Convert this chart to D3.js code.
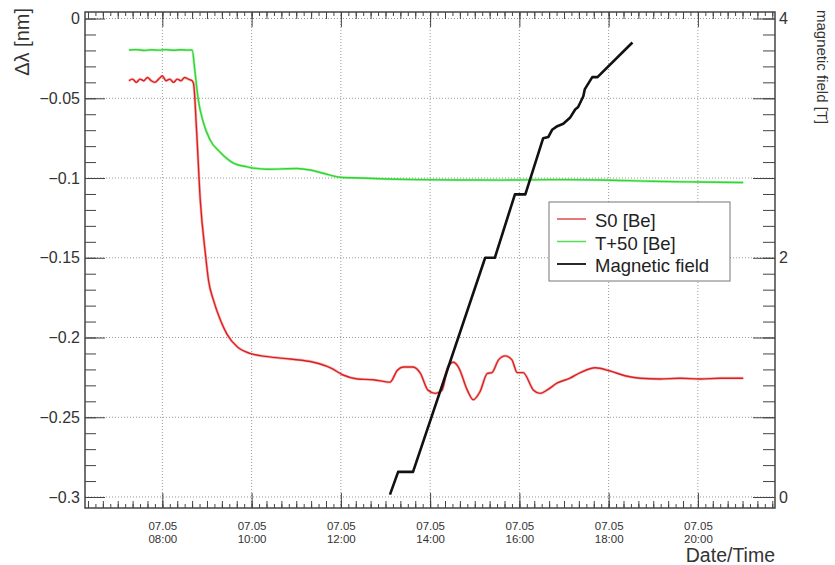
<!DOCTYPE html>
<html>
<head>
<meta charset="utf-8">
<script src="https://cdn.jsdelivr.net/npm/d3@7"></script>
<style>
body { margin: 0; background: #fff; }
svg { font-family: "Liberation Sans", Arial, Helvetica, sans-serif; }
</style>
</head>
<body>
<svg width="835" height="565"></svg>
<script>
// ---- data ----
var dayLabel = "07.05"

var s0Time = ["07:15","07:20","07:25","07:30","07:35","07:40","07:45","07:50","07:55","08:00",
  "08:05","08:10","08:15","08:20","08:25","08:30","08:35","08:40","08:42","08:46","08:51","08:58",
  "09:02","09:09","09:18","09:27","09:41","09:58","10:21","10:52","11:23","11:46","12:03","12:22",
  "12:44","13:06","13:16","13:24","13:37","13:47","13:57","14:07","14:16","14:24","14:31","14:38",
  "14:50","14:58","15:07","15:17","15:23","15:32","15:41","15:50","15:57","16:05","16:19","16:28",
  "16:37","16:51","17:08","17:22","17:42","18:02","18:22","18:42","19:09","19:36","20:03","20:30","21:01"]
var s0Value = [-0.039,-0.038,-0.040,-0.038,-0.039,-0.037,-0.039,-0.040,-0.038,-0.036,
  -0.039,-0.038,-0.040,-0.038,-0.039,-0.037,-0.038,-0.039,-0.041,-0.070,-0.114,-0.148,
  -0.164,-0.177,-0.189,-0.198,-0.206,-0.210,-0.212,-0.2135,-0.2155,-0.219,-0.2235,-0.226,
  -0.2265,-0.228,-0.2205,-0.2185,-0.2185,-0.2225,-0.233,-0.235,-0.233,-0.2185,-0.2155,-0.2185,
  -0.233,-0.239,-0.234,-0.2225,-0.222,-0.214,-0.2115,-0.214,-0.222,-0.222,-0.233,-0.235,
  -0.233,-0.2285,-0.2255,-0.222,-0.219,-0.221,-0.224,-0.2255,-0.226,-0.2255,-0.226,-0.2255,-0.2255]

var tTime = ["07:15","07:25","07:35","07:45","07:55","08:05","08:15","08:25","08:35","08:40",
  "08:44","08:48","08:55","09:04","09:18","09:35","09:54","10:21","11:01","11:19","11:36","11:59",
  "12:26","12:53","13:47","14:40","15:34","16:40","17:49","18:56","20:03","21:01"]
var tValue = [-0.0197,-0.0195,-0.0200,-0.0196,-0.0198,-0.0195,-0.0199,-0.0196,-0.0198,-0.0197,
  -0.034,-0.050,-0.065,-0.076,-0.084,-0.0905,-0.093,-0.0945,-0.094,-0.095,-0.097,-0.0995,
  -0.100,-0.1005,-0.101,-0.1012,-0.1013,-0.101,-0.1012,-0.102,-0.1025,-0.1028]

var bTime = ["13:06","13:17","13:37","15:14","15:27","15:54","16:08","16:32","16:39","16:44",
  "16:51","16:59","17:08","17:15","17:19","17:26","17:28","17:38","17:45","18:32"]
var bValue = [0.02,0.21,0.21,2.0,2.0,2.53,2.53,3.0,3.01,3.07,
  3.10,3.12,3.17,3.24,3.26,3.35,3.41,3.51,3.51,3.80]

var yTicks = [0,-0.05,-0.1,-0.15,-0.2,-0.25,-0.3]
var yTickLabels = ["0","\u22120.05","\u22120.1","\u22120.15","\u22120.2","\u22120.25","\u22120.3"]
var bTicks = [0,2,4]
var xTickHours = ["08:00","10:00","12:00","14:00","16:00","18:00","20:00"]
var legendNames = ["S0 [Be]","T+50 [Be]","Magnetic field"]

// ---- setup ----
var svg = d3.select("svg")
var parse = d3.timeParse("%H:%M")
var L = 85, R = 775, T = 12, B = 508
var ink = "#444", txt = "#333"

var x = d3.scaleTime()
    .domain([parse("06:16"), d3.timeSecond.offset(parse("21:43"), 40)])
    .range([L, R])
var y = d3.scaleLinear().domain([-0.3069, 0.0041]).range([B, T])
// right axis is tied to the left one: -0.3 -> 0 T, 0 -> 4 T
var yB = d3.scaleLinear()
    .domain([(-0.3069+0.3)/0.075, (0.0041+0.3)/0.075]).range([B, T])

// grid
var grid = svg.append("g")
grid.selectAll(".gx").data(xTickHours).enter().append("line")
    .attr("x1", function(d){ return x(parse(d)) }).attr("x2", function(d){ return x(parse(d)) })
    .attr("y1", T).attr("y2", B)
    .attr("stroke", "#999").attr("stroke-dasharray", "1,2")
grid.selectAll(".gy").data(yTicks).enter().append("line")
    .attr("x1", L).attr("x2", R)
    .attr("y1", function(d){ return y(d) }).attr("y2", function(d){ return y(d) })
    .attr("stroke", "#999").attr("stroke-dasharray", "1,2")

// ---- curves ----
function series(times, vals) {
    return times.map(function(t, i){ return [parse(t), vals[i]] })
}
var lineY = d3.line().x(function(d){ return x(d[0]) }).y(function(d){ return y(d[1]) })
    .curve(d3.curveMonotoneX)
var lineB = d3.line().x(function(d){ return x(d[0]) }).y(function(d){ return yB(d[1]) })

// a soft halo under the thin lines, the measured data is noisy
svg.append("path").datum(series(tTime, tValue)).attr("d", lineY)
    .attr("fill", "none").attr("stroke", "#2fd62f").attr("stroke-width", 2.6).attr("opacity", 0.35)
svg.append("path").datum(series(tTime, tValue)).attr("d", lineY)
    .attr("fill", "none").attr("stroke", "#2fd62f").attr("stroke-width", 1.4)
svg.append("path").datum(series(s0Time, s0Value)).attr("d", lineY)
    .attr("fill", "none").attr("stroke", "#dd1f1f").attr("stroke-width", 2.8).attr("opacity", 0.3)
svg.append("path").datum(series(s0Time, s0Value)).attr("d", lineY)
    .attr("fill", "none").attr("stroke", "#dd1f1f").attr("stroke-width", 1.4)
svg.append("path").datum(series(bTime, bValue)).attr("d", lineB)
    .attr("fill", "none").attr("stroke", "#111").attr("stroke-width", 2.6)
    .attr("stroke-linejoin", "round")

// ---- axes ----
function axisStyle(g) {
    g.select(".domain").remove()
    g.selectAll(".tick line").attr("stroke", ink)
    g.selectAll(".tick text").attr("fill", txt)
}

var hours2 = xTickHours.map(parse)
var min10 = d3.timeMinute.every(10).range(x.domain()[0], x.domain()[1])
var min20 = min10.filter(function(d){ return d.getMinutes() % 20 == 0 })

// bottom
svg.append("g").attr("transform", "translate(0,"+B+")")
    .call(d3.axisBottom(x).tickValues(min10).tickSize(-4).tickFormat("")).call(axisStyle)
svg.append("g").attr("transform", "translate(0,"+B+")")
    .call(d3.axisBottom(x).tickValues(min20).tickSize(-7).tickFormat("")).call(axisStyle)
var xb = svg.append("g").attr("transform", "translate(0,"+B+")")
    .call(d3.axisBottom(x).tickValues(hours2).tickSize(-15).tickPadding(0)
    .tickFormat(function(){ return dayLabel })).call(axisStyle)
xb.selectAll(".tick text").attr("font-size", 11.5).attr("dy", null).attr("y", 22)
// second label line (hour) under the date
xb.selectAll(".tick").append("text")
    .attr("fill", txt).attr("font-size", 11.5).attr("y", 35)
    .text(d3.timeFormat("%H:%M"))

// top (mirrored ticks only)
svg.append("g").attr("transform", "translate(0,"+T+")")
    .call(d3.axisTop(x).tickValues(min10).tickSize(-4).tickFormat("")).call(axisStyle)
svg.append("g").attr("transform", "translate(0,"+T+")")
    .call(d3.axisTop(x).tickValues(min20).tickSize(-7).tickFormat("")).call(axisStyle)
svg.append("g").attr("transform", "translate(0,"+T+")")
    .call(d3.axisTop(x).tickValues(hours2).tickSize(-15).tickFormat("")).call(axisStyle)

// left
var yMinor = d3.range(0, 31).map(function(i){ return -i/100 })
svg.append("g").attr("transform", "translate("+L+",0)")
    .call(d3.axisLeft(y).tickValues(yMinor).tickSize(-11).tickFormat("")).call(axisStyle)
var yl = svg.append("g").attr("transform", "translate("+L+",0)")
    .call(d3.axisLeft(y).tickValues(yTicks).tickSize(-20).tickPadding(5)
    .tickFormat(function(d, i){ return yTickLabels[i] })).call(axisStyle)
yl.selectAll(".tick text").attr("font-size", 16)

// right: mirrored ticks + magnetic field labels
svg.append("g").attr("transform", "translate("+R+",0)")
    .call(d3.axisLeft(y).tickValues(yMinor).tickSize(12).tickFormat("")).call(axisStyle)
svg.append("g").attr("transform", "translate("+R+",0)")
    .call(d3.axisLeft(y).tickValues(yTicks).tickSize(22).tickFormat("")).call(axisStyle)
var yr = svg.append("g").attr("transform", "translate("+R+",0)")
    .call(d3.axisRight(yB).tickValues(bTicks).tickSize(0).tickPadding(4)
    .tickFormat(d3.format("d"))).call(axisStyle)
yr.selectAll(".tick text").attr("font-size", 16)

// frame
svg.append("rect").attr("x", L).attr("y", T).attr("width", R-L).attr("height", B-T)
    .attr("fill", "none").attr("stroke", ink).attr("stroke-width", 1.5)

// titles
svg.append("text").attr("transform", "translate(29,8) rotate(-90)")
    .attr("text-anchor", "end").attr("font-size", 20).attr("fill", txt)
    .text("\u0394\u03bb [nm]")
svg.append("text").attr("transform", "translate(817,10) rotate(90)")
    .attr("text-anchor", "start").attr("font-size", 15).attr("fill", txt)
    .text("magnetic field [T]")
svg.append("text").attr("x", R).attr("y", 562)
    .attr("text-anchor", "end").attr("font-size", 19.5).attr("fill", txt)
    .text("Date/Time")

// legend
var lg = svg.append("g")
lg.append("rect").attr("x", 549).attr("y", 202).attr("width", 181).attr("height", 79)
    .attr("fill", "#fff").attr("stroke", "#777").attr("stroke-width", 1)
var lgColors = ["#e04a4a", "#55dd55", "#111"]
var lgWidth = [1.5, 1.5, 1.8]
legendNames.forEach(function(name, i){
    var yy = 219 + i*22.5
    lg.append("line").attr("x1", 557).attr("x2", 586).attr("y1", yy).attr("y2", yy)
        .attr("stroke", lgColors[i]).attr("stroke-width", lgWidth[i])
    lg.append("text").attr("x", 595).attr("y", yy+8).attr("font-size", 18.5)
        .attr("fill", "#222").text(name)
})
</script>
</body>
</html>
